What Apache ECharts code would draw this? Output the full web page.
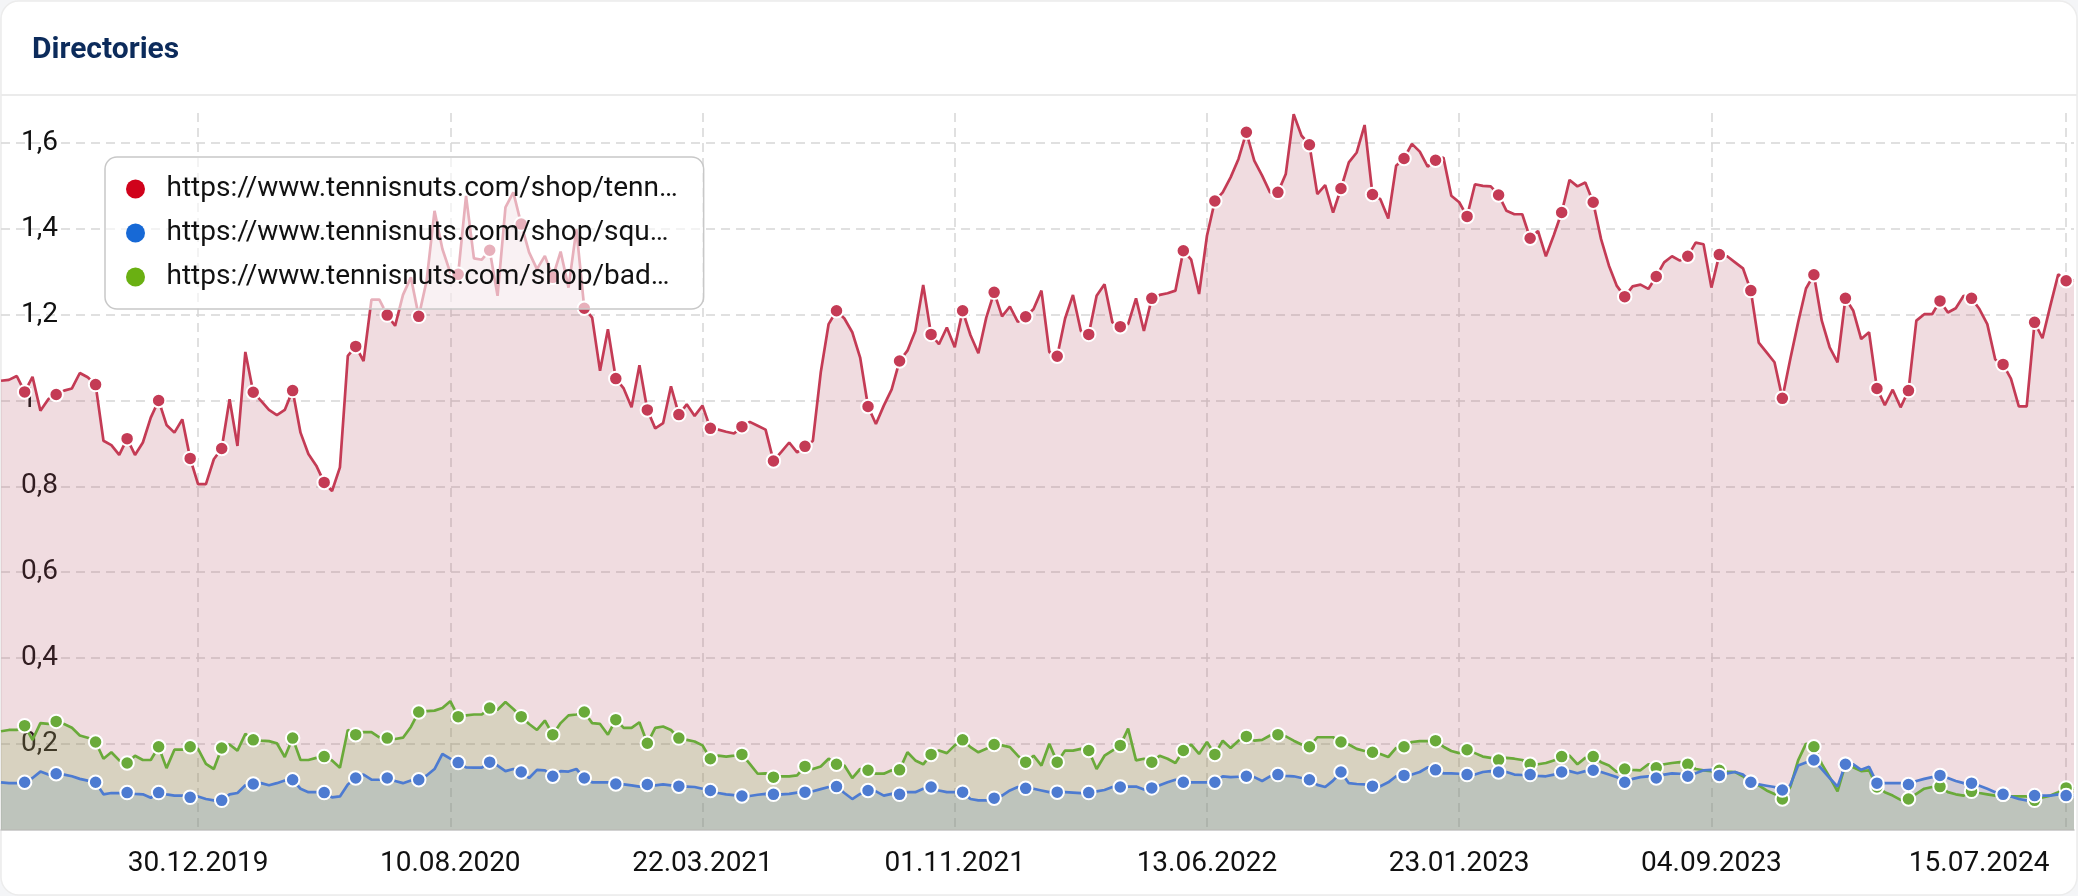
<!DOCTYPE html>
<html>
<head>
<meta charset="utf-8">
<script src="https://cdn.jsdelivr.net/npm/echarts@6/dist/echarts.min.js"></script>
<style>
html,body{margin:0;padding:0;background:#f4f5f7;}
#c{width:2078px;height:896px;}
</style>
</head>
<body>
<div id="c"></div>
<script>
// ---- data ----
const seriesNames = [
  'https://www.tennisnuts.com/shop/tenn…',
  'https://www.tennisnuts.com/shop/squ…',
  'https://www.tennisnuts.com/shop/bad…'
];
const firstWeek = '08.07.2019';   // weekly points (Mondays)
const xLabels = ['30.12.2019','10.08.2020','22.03.2021','01.11.2021','13.06.2022','23.01.2023','04.09.2023','15.07.2024'];
const yTicks = [0.2,0.4,0.6,0.8,1,1.2,1.4,1.6];
const markerIdx = [3,7,12,16,20,24,28,32,37,41,45,49,53,58,62,66,70,74,78,82,86,90,94,98,102,106,110,114,118,122,126,130,134,138,142,146,150,154,158,162,166,170,174,178,182,186,190,194,198,202,206,210,214,218,222,226,230,234,238,242,246,250,254,258,262];

const tennisValues = [
1.046,1.048,1.057,1.020,1.055,0.976,1.003,1.014,1.023,1.028,1.064,1.054,1.037,0.906,0.896,0.873,0.911,0.873,0.902,0.960,1.000,0.943,0.925,0.956,0.865,
0.805,0.805,0.863,0.888,1.003,0.894,1.113,1.019,0.999,0.978,0.966,0.978,1.023,0.925,0.875,0.848,0.809,0.789,0.844,1.104,
1.126,1.092,1.235,1.235,1.199,1.174,1.246,1.287,1.196,1.279,1.442,1.353,1.298,1.294,1.477,1.331,1.328,1.350,1.244,1.450,1.485,1.411,1.345,1.306,1.337,1.287,1.347,1.263,1.399,1.215,1.193,1.069,1.166,1.051,1.028,0.984,1.082,0.978,0.935,0.947,1.033,0.967,0.991,0.964,
0.988,0.935,0.932,0.927,0.923,0.939,0.950,0.941,0.932,0.859,0.880,0.902,0.879,0.893,0.906,1.065,1.178,1.209,1.191,1.159,1.100,0.986,0.945,0.988,1.026,1.092,1.116,1.162,1.269,1.154,1.131,1.170,1.124,1.209,1.152,1.110,1.193,1.252,1.196,1.219,1.183,1.195,1.213,1.256,
1.113,1.103,1.191,1.246,1.162,1.154,1.244,1.271,1.182,1.172,1.178,1.238,1.162,1.238,1.246,1.250,1.256,1.349,1.328,1.248,1.384,1.465,1.485,1.520,1.563,1.625,1.559,1.524,1.485,1.485,1.528,1.667,1.617,1.596,1.481,1.502,1.438,1.494,1.555,1.578,1.642,1.480,1.469,
1.424,1.547,1.564,1.598,1.580,1.545,1.560,1.566,1.477,1.462,1.429,1.504,1.500,1.499,1.479,1.442,1.434,1.434,1.378,1.395,1.336,1.385,1.438,1.514,1.499,1.508,1.462,1.376,1.314,1.267,1.242,1.266,1.270,1.260,1.289,1.322,1.336,1.326,1.336,1.368,1.364,1.263,1.340,1.336,
1.322,1.308,1.256,1.135,1.112,1.089,1.005,1.096,1.182,1.261,1.293,1.186,1.124,1.089,1.238,1.209,1.143,1.159,1.028,0.989,1.025,0.984,1.023,1.186,1.201,1.201,1.232,1.205,1.215,1.244,1.238,1.213,1.178,1.096,1.084,1.051,0.986,0.986,1.182,1.145,1.221,1.294,1.279,1.280
];

const badmintonValues = [
0.229,0.232,0.232,0.242,0.209,0.248,0.246,0.252,0.246,0.237,0.219,0.214,0.204,0.165,0.180,0.161,0.155,0.172,0.162,0.162,0.193,0.143,0.186,0.186,0.193,
0.188,0.153,0.141,0.190,0.198,0.184,0.223,0.209,0.207,0.206,0.201,0.169,0.213,0.162,0.162,0.167,0.170,0.161,0.144,0.232,
0.221,0.227,0.227,0.215,0.213,0.211,0.214,0.239,0.274,0.276,0.277,0.283,0.299,0.263,0.266,0.268,0.268,0.283,0.279,0.297,
0.281,0.263,0.246,0.232,0.254,0.221,0.248,0.266,0.268,0.274,0.248,0.246,0.221,0.256,0.237,0.237,0.250,0.201,0.237,0.240,0.232,0.213,0.209,0.205,
0.196,0.165,0.172,0.170,0.172,0.175,0.153,0.130,0.131,0.122,
0.124,0.124,0.126,0.147,0.141,0.147,0.165,0.152,0.149,0.120,
0.141,0.138,0.130,0.130,0.138,0.139,0.180,0.161,0.152,0.175,
0.184,0.178,0.196,0.209,0.192,0.180,0.188,0.198,0.196,0.192,
0.172,0.157,0.172,0.149,0.200,0.157,0.184,0.184,0.188,0.184,
0.141,0.172,0.184,0.196,0.235,0.161,0.165,0.157,0.172,0.165,
0.155,0.184,0.198,0.176,0.204,0.175,0.207,0.190,0.207,0.217,
0.207,0.209,0.219,0.221,0.217,0.207,0.198,0.193,0.215,0.215,
0.215,0.204,0.198,0.188,0.183,0.180,0.176,
0.169,0.190,0.193,0.204,0.206,0.206,0.207,0.193,0.183,0.178,
0.186,0.178,0.170,0.167,0.162,0.167,0.165,0.162,0.152,0.152,
0.155,0.161,0.170,0.172,0.152,0.167,0.170,0.157,0.149,0.134,
0.141,0.139,0.138,0.152,0.144,0.152,0.155,0.157,0.152,0.141,
0.138,0.136,0.138,0.135,0.134,0.124,0.110,0.103,0.091,0.083,
0.071,0.099,0.161,0.200,0.193,0.153,0.122,0.089,0.152,0.145,
0.136,0.138,0.099,0.087,0.079,0.069,0.071,0.083,0.095,0.099,
0.100,0.087,0.082,0.079,0.089,0.085,0.082,0.079,0.082,0.077,
0.077,0.077,0.068,0.075,0.079,0.087,0.097,0.095
];

const squashValues = [
0.110,0.108,0.108,0.110,0.120,0.135,0.128,0.130,0.128,0.124,0.118,0.114,0.110,0.082,0.085,0.085,0.086,0.083,0.082,0.074,0.086,0.082,0.079,0.079,0.075,
0.077,0.071,0.068,0.068,0.082,0.085,0.103,0.106,0.108,0.103,
0.108,0.114,0.116,0.095,0.087,0.087,0.086,0.075,0.077,0.105,
0.120,0.128,0.116,0.116,0.120,0.113,0.108,0.114,0.116,0.126,
0.141,0.176,0.165,0.156,0.145,0.144,0.144,0.157,0.149,0.136,
0.141,0.134,0.120,0.139,0.138,0.124,0.136,0.135,0.141,0.120,
0.110,0.110,0.110,0.106,0.105,0.103,0.100,0.105,0.103,0.105,
0.103,0.101,0.100,0.099,
0.095,0.091,0.085,0.082,0.080,0.078,0.078,0.081,0.083,0.082,
0.082,0.083,0.086,0.087,0.089,0.094,0.099,0.100,0.085,0.071,
0.083,0.091,0.089,0.079,0.083,0.082,0.087,0.087,0.095,0.099,
0.091,0.087,0.087,0.087,0.071,0.068,0.068,0.073,0.079,0.091,
0.099,0.096,0.095,0.091,0.087,0.087,0.087,0.086,0.085,0.086,
0.089,0.092,0.099,0.099,0.100,0.100,0.093,0.097,0.103,0.110,
0.116,0.110,0.110,0.110,0.110,0.110,0.124,0.122,0.123,0.124,
0.122,0.113,0.124,0.128,0.125,0.124,0.120,0.116,0.104,0.099,
0.114,0.134,0.108,0.106,0.105,0.101,0.101,
0.110,0.124,0.126,0.128,0.134,0.145,0.139,0.131,0.131,0.130,
0.128,0.128,0.134,0.136,0.134,0.134,0.128,0.127,0.128,0.125,
0.124,0.128,0.134,0.136,0.131,0.136,0.138,0.134,0.128,0.122,
0.110,0.118,0.122,0.124,0.120,0.128,0.131,0.130,0.124,0.131,
0.138,0.139,0.126,0.131,0.134,0.128,0.110,0.105,0.102,0.099,
0.092,0.103,0.149,0.156,0.162,0.141,0.120,0.100,0.152,0.152,
0.139,0.146,0.108,0.108,0.108,0.108,0.105,0.113,0.118,0.122,
0.126,0.120,0.113,0.108,0.108,0.102,0.095,0.087,0.082,0.077,
0.071,0.068,0.079,0.079,0.079,0.082,0.079,0.079
];

// ---- weekly category dates ----
function pad(n){return (n<10?'0':'')+n;}
const p = firstWeek.split('.');
const t0 = Date.UTC(+p[2], +p[1]-1, +p[0]);
const dates = tennisValues.map(function(_, i){
  const d = new Date(t0 + i*7*86400000);
  return pad(d.getUTCDate())+'.'+pad(d.getUTCMonth()+1)+'.'+d.getUTCFullYear();
});
const markerSet = new Set(markerIdx);
const labelSet = new Set(xLabels);
const lastLabel = xLabels[xLabels.length-1];

const colors = {
  tennis: '#c43b55', squash: '#4d7bd1', badminton: '#6aaa3a',
  legendTennis: '#d0021b', legendSquash: '#1769d6', legendBadminton: '#6ab012'
};

function lineSeries(name, data, color, area){
  return {
    name: name, type: 'line', data: data,
    showSymbol: true, showAllSymbol: true, symbol: 'circle',
    symbolSize: function(v, prm){ return markerSet.has(prm.dataIndex) ? 13.5 : 0; },
    lineStyle: {color: color, width: 2.7},
    itemStyle: {color: color, borderColor: '#ffffff', borderWidth: 2},
    areaStyle: {color: area, opacity: 1},
    emphasis: {disabled: true},
    animation: false
  };
}

const chart = echarts.init(document.getElementById('c'), null, {renderer: 'canvas'});
chart.setOption({
  animation: false,
  backgroundColor: 'transparent',
  textStyle: {fontFamily: 'Roboto'},
  graphic: [
    {type: 'rect', z: -10, shape: {x: 1, y: 1, width: 2076, height: 894, r: 18},
     style: {fill: '#ffffff', stroke: '#ececec', lineWidth: 1.5}},
    {type: 'line', z: -5, shape: {x1: 1, y1: 95, x2: 2077, y2: 95},
     style: {stroke: '#ebebeb', lineWidth: 2}}
  ],
  title: {
    text: 'Directories', left: 32, top: 35, padding: 0,
    textStyle: {fontSize: 30, fontWeight: 'bold', color: '#0c2b5b', fontFamily: 'Roboto', lineHeight: 30}
  },
  legend: {
    orient: 'vertical', left: 105, top: 157,
    padding: [17, 26, 17, 21],
    itemWidth: 52, itemHeight: 19, itemGap: 14,
    icon: 'circle',
    backgroundColor: 'rgba(255,255,255,0.6)',
    borderColor: '#c8c8c8', borderWidth: 1.5, borderRadius: 12,
    itemStyle: {borderWidth: 0},
    textStyle: {fontSize: 28, color: '#111111', fontFamily: 'Roboto', lineHeight: 30},
    selectedMode: false,
    data: [
      {name: seriesNames[0], itemStyle: {color: colors.legendTennis, borderWidth: 0}},
      {name: seriesNames[1], itemStyle: {color: colors.legendSquash, borderWidth: 0}},
      {name: seriesNames[2], itemStyle: {color: colors.legendBadminton, borderWidth: 0}}
    ]
  },
  grid: {left: 1, right: 4, top: 113, bottom: 66.5, outerBoundsMode: 'none', containLabel: false},
  xAxis: {
    type: 'category', data: dates, boundaryGap: false,
    axisLine: {show: true, lineStyle: {color: '#c4c4c4', width: 1.5}},
    axisTick: {show: false},
    axisLabel: {
      interval: function(i, v){ return labelSet.has(v); },
      hideOverlap: false,
      margin: 20, fontSize: 28, color: '#111111', fontFamily: 'Roboto',
      formatter: function(v){ return v === lastLabel ? '{s|' + v + '}' : v; },
      rich: {s: {fontSize: 28, color: '#111111', fontFamily: 'Roboto', padding: [0, 174, 0, 0]}}
    },
    splitLine: {
      show: true,
      interval: function(i, v){ return labelSet.has(v); },
      lineStyle: {color: '#d6d6d6', width: 1.5, type: [9, 6]}
    }
  },
  yAxis: {
    type: 'value', min: 0, max: 1.67, interval: 0.2,
    axisLine: {show: false}, axisTick: {show: false},
    axisLabel: {
      inside: true, margin: 20, fontSize: 28, color: '#111111', fontFamily: 'Roboto',
      showMaxLabel: false, showMinLabel: false,
      formatter: function(v){
        for (const t of yTicks) { if (Math.abs(v - t) < 1e-6) return String(t).replace('.', ','); }
        return '';
      }
    },
    splitLine: {
      show: true, showMaxLine: false, showMinLine: false,
      lineStyle: {color: '#d6d6d6', width: 1.5, type: [9, 6]}
    }
  },
  series: [
    lineSeries(seriesNames[0], tennisValues, colors.tennis, 'rgba(180,80,100,0.2)'),
    lineSeries(seriesNames[2], badmintonValues, colors.badminton, 'rgba(120,170,64,0.2)'),
    lineSeries(seriesNames[1], squashValues, colors.squash, 'rgba(91,140,177,0.2)')
  ]
});
</script>
</body>
</html>
